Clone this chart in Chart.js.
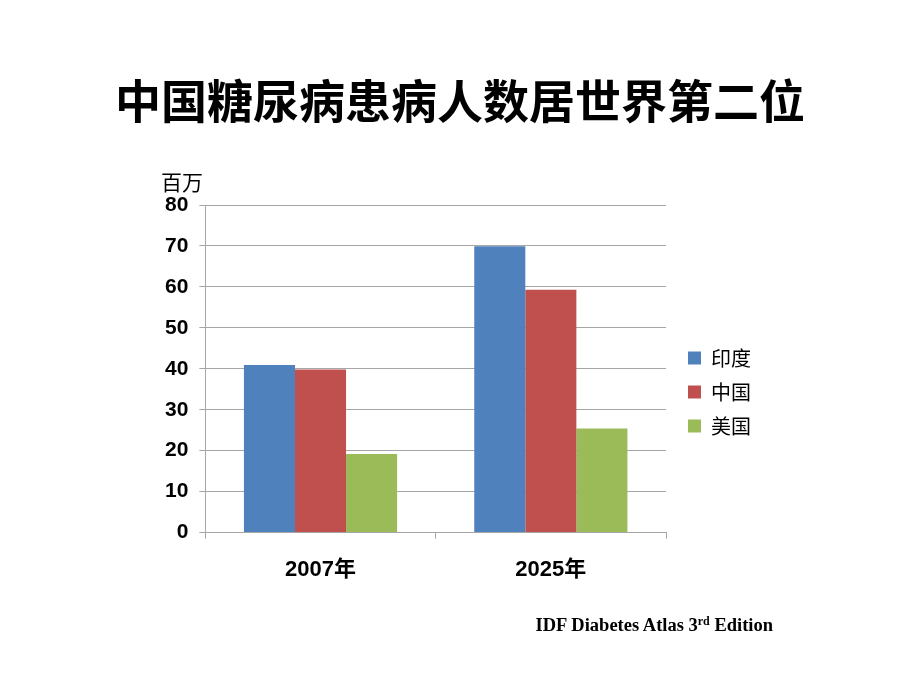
<!doctype html>
<html>
<head>
<meta charset="utf-8">
<title>中国糖尿病患病人数居世界第二位</title>
<script src="https://cdn.jsdelivr.net/npm/chart.js@4.4.1/dist/chart.umd.min.js"></script>
<style>
body { margin: 0; background: #fff; }
#wrap { position: relative; width: 920px; height: 690px; overflow: hidden; }
#canvas { position: absolute; left: 0; top: 0; }
#title {
	position: absolute; left: 0; top: 68px; width: 920px; text-align: center;
	font: bold 46px "Noto Sans CJK SC", sans-serif; color: #000; line-height: 60px;
}
#unit {
	position: absolute; left: 161px; top: 166px;
	font: 21px "Noto Sans CJK SC", sans-serif; color: #000;
}
#source {
	position: absolute; right: 147px; top: 615px;
	font: bold 18.5px "Liberation Serif", serif; color: #000; white-space: nowrap;
}
#source sup { font-size: 12px; vertical-align: 6px; line-height: 0; }
</style>
</head>
<body>
<div id="wrap">
	<canvas id="canvas" width="920" height="690"></canvas>
	<div id="title">中国糖尿病患病人数居世界第二位</div>
	<div id="unit">百万</div>
	<div id="source">IDF Diabetes Atlas 3<sup>rd</sup> Edition</div>
</div>

<script>
var years = ["2007年", "2025年"];
var india = [40.9, 69.9];
var china = [39.8, 59.3];
var usa = [19.2, 25.4];
var yTicks = [0, 10, 20, 30, 40, 50, 60, 70, 80];

var gridColor = "#a6a6a6";

// nudge the legend a bit, like the slide
var legendNudge = {
	id: "legendNudge",
	afterLayout: function(chart) {
		var l = chart.legend;
		if (l) { l.left += 8; l.right += 8; l.top -= 11; l.bottom -= 11; }
	}
};

var ctx = document.getElementById("canvas").getContext("2d");
window.myBar = new Chart(ctx, {
	type: "bar",
	data: {
		labels: years,
		datasets: [{
			label: "印度",
			backgroundColor: "#4f81bd",
			data: india
		}, {
			label: "中国",
			backgroundColor: "#c0504d",
			data: china
		}, {
			label: "美国",
			backgroundColor: "#9bbb59",
			data: usa
		}]
	},
	plugins: [legendNudge],
	options: {
		responsive: false,
		animation: false,
		devicePixelRatio: 1,
		layout: { padding: { top: 205, bottom: 89, left: 154, right: 167 } },
		datasets: {
			bar: { categoryPercentage: 0.665, barPercentage: 1.0, borderWidth: 0 }
		},
		plugins: {
			legend: {
				position: "right",
				labels: {
					boxWidth: 13,
					boxHeight: 13,
					padding: 14,
					color: "#000",
					font: { family: "'Noto Sans CJK SC', sans-serif", size: 20 }
				}
			},
			title: { display: false },
			tooltip: { enabled: false }
		},
		scales: {
			x: {
				grid: { display: true, drawOnChartArea: false, tickLength: 6, color: gridColor, offset: true },
				border: { color: gridColor },
				ticks: {
					padding: 18,
					color: "#000",
					font: { family: "'Liberation Sans', 'Noto Sans CJK SC', sans-serif", size: 22, weight: "bold" }
				}
			},
			y: {
				min: 0,
				max: 80,
				afterBuildTicks: function(axis) {
					axis.ticks = yTicks.map(function(v) { return { value: v }; });
				},
				grid: { color: gridColor, tickLength: 6 },
				border: { color: gridColor },
				ticks: {
					padding: 11,
					color: "#000",
					font: { family: "'Liberation Sans', sans-serif", size: 21, weight: "bold" }
				}
			}
		}
	}
});
</script>
</body>
</html>
